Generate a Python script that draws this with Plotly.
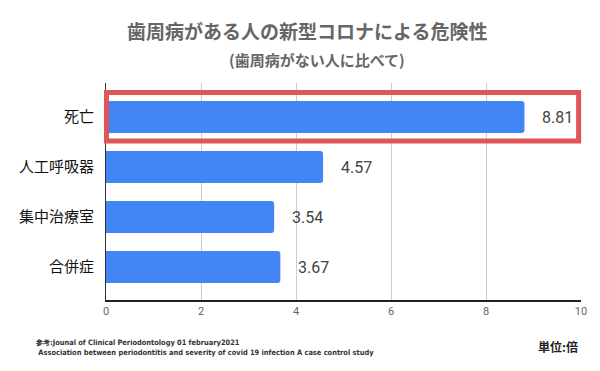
import plotly.graph_objects as go

categories = ["死亡", "人工呼吸器", "集中治療室", "合併症"]
values = [8.81, 4.57, 3.54, 3.67]
value_labels = ["8.81", "4.57", "3.54", "3.67"]
x_ticks = [0, 2, 4, 6, 8, 10]

title_line1 = "歯周病がある人の新型コロナによる危険性"
title_line2 = "(歯周病がない人に比べて)"
note_line1 = "参考:Jounal of Clinical Periodontology 01 february2021"
note_line2 = " Association between periodontitis and severity of covid 19 infection A case control study"
unit_text = "単位:倍"

# page body has an 8px margin; lay out in reference pixel coordinates
OFF = 8
W, H = 600 - OFF, 371 - OFF
ml, mt = 106 - OFF, 83 - OFF
mr = W - (581 - OFF)
mb = H - (300 - OFF)
pw, ph = W - ml - mr, H - mt - mb


def px(x):
    return (x - OFF - ml) / pw


def py(y):
    return 1 - (y - OFF - mt) / ph


fig = go.Figure()
fig.add_trace(go.Bar(
    y=categories, x=values, orientation="h",
    marker=dict(color="#4285F4", cornerradius=3, line=dict(width=0)),
    width=0.64, hoverinfo="skip",
))

for c, v, t in zip(categories, values, value_labels):
    fig.add_annotation(x=v, y=c, text=t, showarrow=False, xanchor="left",
                       xshift=16, font=dict(size=16, color="#444444",
                                            family="Roboto, Arial, sans-serif"))

# highlight rectangle around the first category
fig.add_shape(type="rect", xref="x domain", yref="y",
              x0=0.001, x1=0.995, y0=-0.49, y1=0.48,
              line=dict(color="#E05558", width=5), layer="above")

fig.add_annotation(text="<b>" + title_line1 + "</b>", xref="paper", yref="paper",
                   x=px(307), y=py(30), xanchor="center", yanchor="middle", showarrow=False,
                   font=dict(size=19, color="#666666", family="Noto Sans CJK JP"))
fig.add_annotation(text="<b>" + title_line2 + "</b>", xref="paper", yref="paper",
                   x=px(317), y=py(59), xanchor="center", yanchor="middle", showarrow=False,
                   font=dict(size=15, color="#666666", family="Noto Sans CJK JP"))

fig.add_annotation(text="<b>" + note_line1 + "<br>" + note_line2 + "</b>",
                   xref="paper", yref="paper",
                   x=px(33), y=py(347), xanchor="left", yanchor="middle", align="left",
                   showarrow=False,
                   font=dict(size=7.4, color="#333333", family="DejaVu Sans Condensed"))
fig.add_annotation(text="<b>" + unit_text + "</b>", xref="paper", yref="paper",
                   x=px(580), y=py(346), xanchor="right", yanchor="middle",
                   showarrow=False, font=dict(size=12, color="#222222", family="Noto Sans CJK JP"))

fig.update_layout(
    width=W, height=H,
    margin=dict(l=ml, r=mr, t=mt, b=mb, pad=0, autoexpand=False),
    paper_bgcolor="white", plot_bgcolor="white",
    showlegend=False,
    font=dict(family="Noto Sans CJK JP"),
    xaxis=dict(range=[0, 10], tickvals=x_ticks, ticktext=[str(t) for t in x_ticks],
               showgrid=True, gridcolor="#cccccc", gridwidth=1,
               showline=True, linecolor="#222222", linewidth=2,
               zeroline=False, ticks="", ticklen=0,
               tickfont=dict(size=11, color="#666666", family="Roboto")),
    yaxis=dict(type="category", range=[3.66, -0.68], showgrid=False,
               showline=True, linecolor="#333333", linewidth=1,
               ticks="", ticklabelstandoff=8, zeroline=False, automargin=False,
               tickfont=dict(size=15, color="#111111", family="Noto Sans CJK JP")),
)

fig.write_html("out.html")
